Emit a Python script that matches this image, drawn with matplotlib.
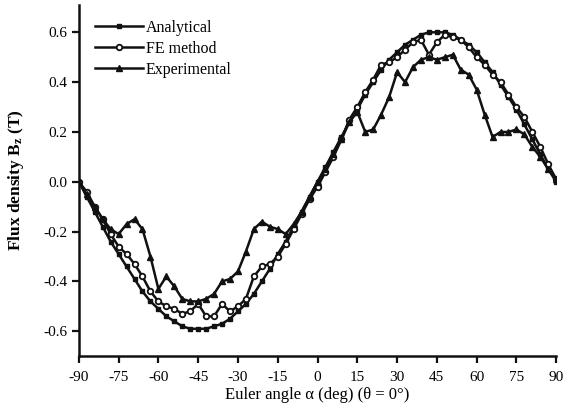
import matplotlib
matplotlib.use("Agg")
from matplotlib import pyplot as plt

# angles (deg)
angle = list(range(-90, 91, 3))

analytical = [0.00, -0.06, -0.12, -0.18, -0.24, -0.29, -0.34, -0.39, -0.44, -0.48,
              -0.51, -0.54, -0.56, -0.58, -0.59, -0.59, -0.59, -0.58, -0.57, -0.55,
              -0.52, -0.49, -0.45, -0.40, -0.35, -0.29, -0.24, -0.18, -0.12, -0.06,
              0.00, 0.06, 0.12, 0.18, 0.24, 0.29, 0.35, 0.40, 0.45, 0.49,
              0.52, 0.55, 0.57, 0.59, 0.60, 0.60, 0.60, 0.59, 0.57, 0.55,
              0.52, 0.48, 0.44, 0.39, 0.34, 0.29, 0.23, 0.17, 0.11, 0.05, 0.00]

fe_method = [0.00, -0.04, -0.10, -0.15, -0.21, -0.26, -0.29, -0.33, -0.38, -0.44,
             -0.48, -0.50, -0.51, -0.53, -0.52, -0.49, -0.54, -0.54, -0.49, -0.52,
             -0.50, -0.47, -0.38, -0.34, -0.33, -0.30, -0.25, -0.19, -0.13, -0.07,
             -0.02, 0.04, 0.10, 0.17, 0.25, 0.30, 0.36, 0.41, 0.47, 0.48,
             0.50, 0.53, 0.56, 0.57, 0.51, 0.56, 0.59, 0.58, 0.57, 0.54,
             0.50, 0.47, 0.43, 0.40, 0.35, 0.30, 0.26, 0.20, 0.14, 0.07, 0.01]

experimental = [0.00, -0.05, -0.10, -0.15, -0.19, -0.21, -0.17, -0.15, -0.19, -0.30,
                -0.43, -0.38, -0.42, -0.47, -0.48, -0.48, -0.47, -0.45, -0.40, -0.39,
                -0.36, -0.28, -0.19, -0.16, -0.18, -0.19, -0.21, -0.17, -0.12, -0.06,
                0.00, 0.05, 0.11, 0.17, 0.24, 0.28, 0.20, 0.21, 0.27, 0.34,
                0.44, 0.40, 0.46, 0.49, 0.50, 0.49, 0.50, 0.51, 0.45, 0.43,
                0.37, 0.27, 0.18, 0.20, 0.20, 0.21, 0.19, 0.14, 0.10, 0.05, 0.01]

x_ticks = list(range(-90, 91, 15))
y_ticks = [-0.6, -0.4, -0.2, 0.0, 0.2, 0.4, 0.6]

plt.rcParams['font.family'] = ['Liberation Serif', 'DejaVu Serif']
plt.rcParams['mathtext.default'] = 'regular'
plt.rcParams['axes.unicode_minus'] = False

fig = plt.figure(figsize=(5.67, 4.08), dpi=100)
ax = fig.add_axes([0.139, 0.127, 0.842, 0.861])

ax.plot(angle, analytical, color='#111111', lw=1.8, marker='s', ms=2.8,
        label='Analytical')
ax.plot(angle, fe_method, color='#111111', lw=1.8, marker='o', ms=4,
        mfc='white', mew=1.3, label='FE method')
ax.plot(angle, experimental, color='#111111', lw=1.8, marker='^', ms=5,
        label='Experimental')

ax.set_xlim(-90, 90)
ax.set_ylim(-0.7, 0.71)
ax.set_xticks(x_ticks)
ax.set_yticks(y_ticks)
ax.set_yticklabels(['{:.1f}'.format(v) for v in y_ticks])
ax.tick_params(direction='out', width=1.6, length=5, labelsize=11, color='#111111')
ax.tick_params(axis='x', pad=6)

for s in ['top', 'right']:
    ax.spines[s].set_visible(False)
for s in ['left', 'bottom']:
    ax.spines[s].set_linewidth(1.8)
    ax.spines[s].set_color('#111111')

ax.set_xlabel('Euler angle α (deg) (θ = 0°)', fontsize=12, labelpad=2)
ax.set_ylabel('Flux density B$_{z}$ (T)', fontsize=12.5, fontweight='bold', labelpad=12)

ax.legend(loc='upper left', frameon=False, fontsize=11.5, handlelength=3.0,
          handletextpad=0.2, labelspacing=0.3, borderaxespad=0.0,
          bbox_to_anchor=(0.02, 0.975))

fig.savefig('out.png', dpi=100)
